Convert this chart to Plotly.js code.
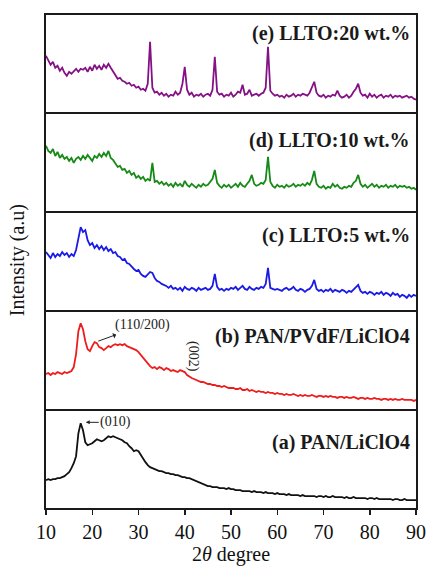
<!DOCTYPE html>
<html>
<head>
<meta charset="utf-8">
<script src="https://cdn.plot.ly/plotly-3.0.1.min.js"></script>
<style>html,body{margin:0;padding:0;background:#fff;}#chart{width:430px;height:568px;}</style>
</head>
<body>
<div id="chart"></div>
<script>
// 2-theta grid (degrees)
const twoTheta = [
10,10.5,11,11.5,12,12.5,13,13.5,14,14.5,
15,15.5,16,16.5,17,17.5,18,18.5,19,19.5,
20,20.5,21,21.5,22,22.5,23,23.5,24,24.5,
25,25.5,26,26.5,27,27.5,28,28.5,29,29.5,
30,30.5,31,31.5,32,32.5,33,33.5,34,34.5,
35,35.5,36,36.5,37,37.5,38,38.5,39,39.5,
40,40.5,41,41.5,42,42.5,43,43.5,44,44.5,
45,45.5,46,46.5,47,47.5,48,48.5,49,49.5,
50,50.5,51,51.5,52,52.5,53,53.5,54,54.5,
55,55.5,56,56.5,57,57.5,58,58.5,59,59.5,
60,60.5,61,61.5,62,62.5,63,63.5,64,64.5,
65,65.5,66,66.5,67,67.5,68,68.5,69,69.5,
70,70.5,71,71.5,72,72.5,73,73.5,74,74.5,
75,75.5,76,76.5,77,77.5,78,78.5,79,79.5,
80,80.5,81,81.5,82,82.5,83,83.5,84,84.5,
85,85.5,86,86.5,87,87.5,88,88.5,89,89.5,
90];

// (a) PAN/LiClO4
const intensityA = [
28,29,28,29,29,30,30,31,32,34,
36,40,45,52,75,85,78,66,63,64,
65,67,69,68,67,68,70,72,71,72,
71,70,69,68,66,65,62,60,57,58,
57,53,49,46,43,41,40,39,38,37,
37,36,35,35,34,34,33,33,32,31,
31,30,30,29,28,27,26,25,24,23,
22,22,21,21,21,20,20,20,19,20,
19,19,18,18,18,17,17,17,17,16,
17,16,16,16,15,16,15,15,15,14,
15,14,14,14,13,14,13,13,13,13,
12,13,12,12,12,12,12,11,12,12,
11,12,11,11,12,11,11,11,11,10,
11,10,10,11,10,10,10,10,10,9,
10,10,9,10,9,9,9,9,9,9,
8,9,9,8,8,9,8,8,8,8,
8];

// (b) PAN/PVdF/LiClO4
const intensityB = [
35,36,34,36,35,37,36,35,37,36,
37,38,42,55,78,86,80,68,60,58,
63,67,66,62,61,59,61,63,62,64,
65,64,65,64,65,63,62,61,60,59,
57,54,51,48,46,43,41,42,40,42,
41,39,41,40,38,39,38,37,39,38,
37,34,32,31,30,29,28,27,27,26,
25,25,24,24,23,23,22,23,22,21,
21,21,20,20,21,19,19,20,18,19,
18,17,18,17,17,16,17,16,16,15,
16,15,15,14,15,14,14,15,14,13,
14,13,14,13,13,14,13,12,13,13,
12,13,12,13,12,12,11,12,12,11,
12,11,11,12,11,10,11,11,10,11,
10,10,11,10,10,9,10,10,9,10,
9,10,9,9,10,9,9,9,9,8,
9];

// (c) LLTO:5 wt.%
const intensityC = [
58,55,52,57,53,56,54,58,55,57,
53,56,54,60,72,83,78,80,70,65,
67,62,65,61,64,60,63,59,61,57,
58,54,53,50,51,47,46,43,41,39,
40,36,34,33,36,38,37,32,29,28,
26,25,24,22,24,21,22,20,22,19,
23,21,20,22,21,19,22,20,21,22,
20,21,24,36,23,20,21,19,21,20,
22,21,23,20,22,24,21,20,23,21,
20,22,21,23,22,26,42,22,21,20,
21,20,19,21,22,20,21,23,20,19,
21,20,18,20,21,24,30,21,19,20,
18,20,19,21,18,20,19,18,20,19,
17,19,18,20,22,25,19,17,18,16,
18,17,15,17,16,18,15,17,16,14,
17,15,16,13,15,14,12,15,13,15,
14];

// (d) LLTO:10 wt.%
const intensityD = [
65,60,58,62,55,59,53,56,52,54,
50,53,48,52,54,51,55,52,56,53,
50,55,53,57,54,58,55,60,53,51,
47,44,45,41,42,38,40,36,38,33,
35,32,34,30,32,30,48,29,30,27,
29,26,28,25,27,24,28,25,27,24,
30,26,24,27,25,23,26,24,27,25,
26,29,32,41,28,25,23,26,24,26,
23,25,27,24,28,25,24,27,30,36,
27,25,26,28,27,31,54,29,25,23,
26,24,25,23,26,24,25,27,24,26,
25,27,25,28,26,31,40,27,24,23,
25,22,24,23,27,24,26,23,22,24,
23,25,24,28,30,36,27,24,26,23,
25,27,24,26,23,25,24,26,23,25,
24,26,23,25,24,25,23,24,22,23,
21];

// (e) LLTO:20 wt.%
const intensityE = [
56,52,47,50,44,46,41,44,39,36,
40,38,41,43,40,43,42,44,40,45,
41,47,43,46,42,47,44,48,44,40,
36,33,34,31,30,28,29,26,27,24,
25,22,23,21,28,70,24,19,20,17,
19,16,18,15,17,16,20,17,19,28,
45,22,17,19,15,17,16,18,15,17,
18,16,22,55,20,17,18,15,17,16,
19,15,17,20,19,27,17,18,22,16,
17,18,16,18,19,24,65,21,18,16,
17,15,16,14,17,15,16,18,15,17,
16,18,17,16,19,24,30,19,16,15,
17,14,16,15,17,16,21,16,14,15,
17,14,16,20,23,28,19,16,17,14,
18,15,17,14,16,17,14,16,15,17,
14,16,15,16,14,15,16,14,15,13,
12];

const sampleLabels = [
  "(a) PAN/LiClO4",
  "(b) PAN/PVdF/LiClO4",
  "(c) LLTO:5 wt.%",
  "(d) LLTO:10 wt.%",
  "(e) LLTO:20 wt.%"
];
const seriesList = [intensityA, intensityB, intensityC, intensityD, intensityE];
const colors = ["#111111", "#ee1c1c", "#1a1ae6", "#168a16", "#851285"];
const labelHeights = [66, 73, 75, 70, 78];
const xTicks = [10,20,30,40,50,60,70,80,90];

const serif = "Liberation Serif";
const data = [];
const layout = {
  width: 430, height: 568,
  margin: {l: 46, r: 14, t: 15, b: 60},
  paper_bgcolor: "#fff", plot_bgcolor: "#fff",
  showlegend: false,
  font: {family: serif, color: "#111", size: 20},
  annotations: []
};
const gap = 0.005;
const h = (1 - 4 * gap) / 5;
for (let i = 0; i < 5; i++) {
  const n = i + 1;
  const xa = n === 1 ? "x" : "x" + n;
  const ya = n === 1 ? "y" : "y" + n;
  data.push({
    x: twoTheta, y: seriesList[i], type: "scatter", mode: "lines",
    xaxis: xa, yaxis: ya,
    line: {color: colors[i], width: 1.8, shape: "linear"},
    hoverinfo: "skip"
  });
  const xk = n === 1 ? "xaxis" : "xaxis" + n;
  const yk = n === 1 ? "yaxis" : "yaxis" + n;
  layout[xk] = {
    range: [10, 90], anchor: ya, domain: [0, 1],
    showline: true, mirror: true, linecolor: "#1a1a1a", linewidth: 2,
    showgrid: false, zeroline: false,
    tickvals: xTicks, ticktext: xTicks.map(String),
    ticks: n === 1 ? "outside" : "", ticklen: 5, tickwidth: 1.5, tickcolor: "#1a1a1a",
    showticklabels: n === 1,
    tickfont: {family: serif, size: 20, color: "#111"}
  };
  if (n === 1) {
    layout[xk].title = {text: "2<i>θ</i> degree", font: {family: serif, size: 20, color: "#111"}, standoff: 4};
  }
  layout[yk] = {
    range: [0, 97], domain: [i * (h + gap), i * (h + gap) + h], anchor: xa,
    showline: true, mirror: true, linecolor: "#1a1a1a", linewidth: 2,
    showgrid: false, zeroline: false, ticks: "", showticklabels: false
  };
  layout.annotations.push({
    xref: "paper", yref: ya, x: 0.99, y: labelHeights[i],
    xanchor: "right", yanchor: "middle", showarrow: false,
    text: "<b>" + sampleLabels[i] + "</b>",
    font: {family: serif, size: 20, color: "#1a1a1a"}
  });
}
layout.annotations.push({
  xref: "paper", yref: "paper", x: -0.078, y: 0.503,
  xanchor: "center", yanchor: "middle", textangle: -90, showarrow: false,
  text: "Intensity (a.u)", font: {family: serif, size: 20, color: "#111"}
});
// peak annotations
layout.annotations.push({
  xref: "x2", yref: "y2", x: 21.3, y: 68, ax: 44, ay: -16,
  text: "(110/200)", showarrow: true, arrowhead: 2, arrowside: "start",
  arrowsize: 0.8, arrowwidth: 1, arrowcolor: "#222",
  font: {family: serif, size: 14, color: "#222"}
});
layout.annotations.push({
  xref: "x2", yref: "y2", x: 41.8, y: 53, showarrow: false, textangle: 90,
  text: "(002)", font: {family: serif, size: 14, color: "#222"}
});
layout.annotations.push({
  xref: "x", yref: "y", x: 18.6, y: 86, ax: 30, ay: 0,
  text: "(010)", showarrow: true, arrowhead: 2, arrowside: "end",
  arrowsize: 0.8, arrowwidth: 1, arrowcolor: "#222",
  font: {family: serif, size: 14, color: "#222"}
});
Plotly.newPlot("chart", data, layout, {displayModeBar: false, staticPlot: true});
</script>
</body>
</html>
